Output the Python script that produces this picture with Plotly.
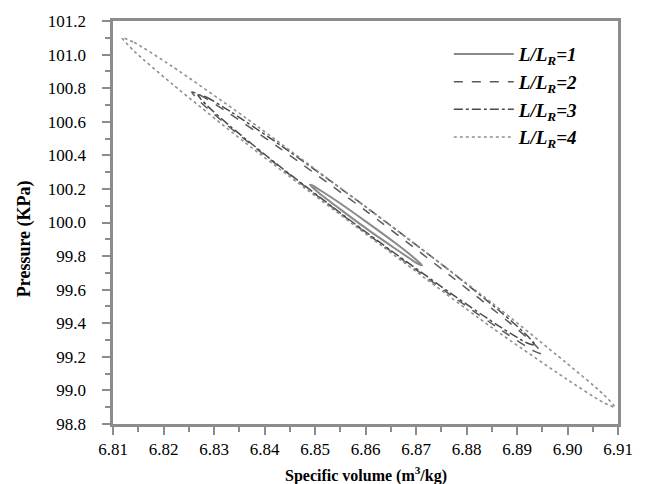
import plotly.graph_objects as go

# Loop L/LR=1 (solid)
v1 = [6.8490, 6.8496, 6.8512, 6.8546, 6.8601, 6.8657, 6.8690, 6.8706, 6.8712,
      6.8706, 6.8690, 6.8657, 6.8601, 6.8546, 6.8512, 6.8496, 6.8490]
p1 = [100.225, 100.219, 100.189, 100.122, 100.005, 99.882, 99.805, 99.763, 99.745,
      99.751, 99.781, 99.848, 99.965, 100.088, 100.165, 100.207, 100.225]

# Loop L/LR=2 (dashed)
v2 = [6.8256, 6.8273, 6.8325, 6.8430, 6.8604, 6.8777, 6.8882, 6.8934, 6.8951,
      6.8934, 6.8882, 6.8777, 6.8604, 6.8430, 6.8325, 6.8273, 6.8256]
p2 = [100.777, 100.758, 100.660, 100.443, 100.062, 99.662, 99.411, 99.276, 99.216,
      99.234, 99.333, 99.550, 99.932, 100.331, 100.582, 100.718, 100.777]

# Loop L/LR=3 (dash-dot)
v3 = [6.8268, 6.8285, 6.8335, 6.8435, 6.8602, 6.8769, 6.8869, 6.8919, 6.8936,
      6.8919, 6.8869, 6.8769, 6.8602, 6.8435, 6.8335, 6.8285, 6.8268]
p3 = [100.760, 100.746, 100.656, 100.453, 100.090, 99.708, 99.464, 99.330, 99.270,
      99.284, 99.374, 99.578, 99.940, 100.323, 100.566, 100.700, 100.760]

# Loop L/LR=4 (dotted)
v4 = [6.8118, 6.8142, 6.8216, 6.8362, 6.8606, 6.8850, 6.8996, 6.9070, 6.9094,
      6.9070, 6.8996, 6.8850, 6.8606, 6.8362, 6.8216, 6.8142, 6.8118]
p4 = [101.100, 101.072, 100.932, 100.625, 100.080, 99.522, 99.168, 98.980, 98.900,
      98.930, 99.072, 99.375, 99.920, 100.475, 100.828, 101.020, 101.100]

names = ["<b><i>L/L<sub>R</sub>=1</i></b>", "<b><i>L/L<sub>R</sub>=2</i></b>",
         "<b><i>L/L<sub>R</sub>=3</i></b>", "<b><i>L/L<sub>R</sub>=4</i></b>"]

series = [(v1, p1, "solid", "#8a8a8a", 2.0),
          (v2, p2, "dash", "#5a5a5a", 1.5),
          (v3, p3, "dashdot", "#4a4a4a", 1.5),
          (v4, p4, "dot", "#909090", 1.6)]

SERIF = "Liberation Serif, serif"

fig = go.Figure()
for (v, p, dash, col, w), nm in zip(series, names):
    fig.add_trace(go.Scatter(x=v, y=p, mode="lines", name=nm,
                             line=dict(dash=dash, color=col, width=w, shape="spline", smoothing=0.7)))

tick_font = dict(family=SERIF, size=17, color="black")

fig.update_layout(
    width=654, height=484,
    margin=dict(l=113, r=36, t=15, b=60),
    paper_bgcolor="white", plot_bgcolor="white",
    showlegend=True,
    legend=dict(x=0.665, y=0.965, xanchor="left", yanchor="top",
                font=dict(family=SERIF, size=19, color="black"),
                bgcolor="rgba(0,0,0,0)", itemwidth=60, tracegroupgap=0),
    font=dict(family=SERIF, size=17, color="black"),
)
fig.update_xaxes(range=[6.81, 6.91], dtick=0.01, tick0=6.81, tickformat=".2f",
                 showline=True, linecolor="#8c8c8c", linewidth=2.5, mirror=True,
                 ticks="outside", ticklen=8, tickwidth=1.5, tickcolor="#8c8c8c",
                 minor=dict(ticks="outside", ticklen=5, dtick=0.005, tickcolor="#8c8c8c", tickwidth=1.5),
                 showgrid=False, zeroline=False, tickfont=tick_font)
fig.update_yaxes(range=[98.8, 101.2], dtick=0.2, tick0=98.8, tickformat=".1f",
                 ticksuffix="\u00a0\u00a0\u00a0",
                 showline=True, linecolor="#8c8c8c", linewidth=2.5, mirror=True,
                 ticks="outside", ticklen=8, tickwidth=1.5, tickcolor="#8c8c8c",
                 minor=dict(ticks="outside", ticklen=5, dtick=0.1, tickcolor="#8c8c8c", tickwidth=1.5),
                 showgrid=False, zeroline=False, tickfont=tick_font)

fig.add_annotation(text="<b>Specific volume (m<sup>3</sup>/kg)</b>", xref="paper", yref="paper",
                   x=0.5, y=-0.125, xanchor="center", yanchor="middle", showarrow=False,
                   font=dict(family=SERIF, size=16, color="black"))
fig.add_annotation(text="<b>Pressure (KPa)</b>", xref="paper", yref="paper",
                   x=-0.175, y=0.46, xanchor="center", yanchor="middle", showarrow=False, textangle=-90,
                   font=dict(family=SERIF, size=18, color="black"))

fig.write_html("out.html")
